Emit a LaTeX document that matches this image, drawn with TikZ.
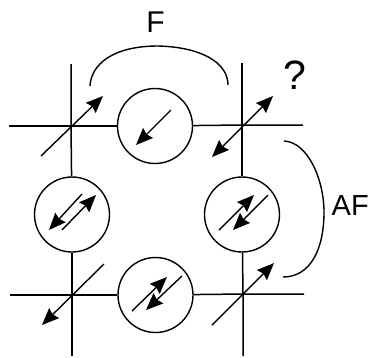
\documentclass[tikz,border=0pt]{standalone}
\usepackage{fontspec}
\setmainfont{Liberation Sans}
\usetikzlibrary{arrows.meta}
\tikzset{
  wire/.style={line width=1.5pt,black},
  spin/.style={line width=1.4pt,black,-{Stealth[length=17pt,width=14pt,inset=2pt]}},
  spintwo/.style={line width=1.4pt,black,{Stealth[length=17pt,width=14pt,inset=2pt]}-{Stealth[length=17pt,width=14pt,inset=2pt]}},
  site/.style={circle,draw,line width=1.4pt,minimum size=75pt,inner sep=0pt},
  bond/.style={line width=1.4pt},
  lbl/.style={inner sep=0pt,font=\fontsize{30}{30}\selectfont}
}
\begin{document}
\begin{tikzpicture}[x=1pt,y=-1pt]
\useasboundingbox (0,0) rectangle (369,357);
% lattice corners
\coordinate (tl) at (71,126);
\coordinate (tr) at (242,125);
\coordinate (bl) at (72,295);
\coordinate (br) at (243,294);
% sites
\node[site] (top) at (155,126) {};
\node[site] (left) at (72,214.5) {};
\node[site] (right) at (242,214.5) {};
\node[site] (bottom) at (155.5,295) {};
% free ends of the wires
\coordinate (tlw) at (9,126);
\coordinate (tln) at (71,64);
\coordinate (trn) at (242,63);
\coordinate (tre) at (303,125);
\coordinate (blw) at (10,295);
\coordinate (bls) at (72,356);
\coordinate (brs) at (243,356);
\coordinate (bre) at (304,294);
\draw[wire] (tlw) -- (tl) -- (top);
\draw[wire] (tln) -- (tl) -- (left);
\draw[wire] (top) -- (tr) -- (tre);
\draw[wire] (trn) -- (tr) -- (right);
\draw[wire] (blw) -- (bl) -- (bottom);
\draw[wire] (left) -- (bl) -- (bls);
\draw[wire] (bottom) -- (br) -- (bre);
\draw[wire] (right) -- (br) -- (brs);
% corner spins
\coordinate (a1) at (41,156); \coordinate (a2) at (103,96);
\coordinate (b1) at (212,157); \coordinate (b2) at (273,96);
\coordinate (c1) at (104,264); \coordinate (c2) at (42,325);
\coordinate (d1) at (212,325); \coordinate (d2) at (274,263);
\draw[spin] (a1) -- (a2);
\draw[spintwo] (b1) -- (b2);
\draw[spin] (c1) -- (c2);
\draw[spin] (d1) -- (d2);
% site spins
\coordinate (e1) at (171,110); \coordinate (e2) at (136,145);
\draw[spin] (e1) -- (e2);
\coordinate (f1) at (82,194); \coordinate (f2) at (49,230);
\coordinate (f3) at (62,230); \coordinate (f4) at (96,195);
\draw[spin] (f1) -- (f2);
\draw[spin] (f3) -- (f4);
\coordinate (g1) at (219,230); \coordinate (g2) at (254,195);
\coordinate (g3) at (268,195); \coordinate (g4) at (233,230);
\draw[spin] (g1) -- (g2);
\draw[spin] (g3) -- (g4);
\coordinate (h1) at (132,311); \coordinate (h2) at (167,277);
\coordinate (h3) at (182,276); \coordinate (h4) at (146,310);
\draw[spin] (h1) -- (h2);
\draw[spin] (h3) -- (h4);
% exchange brackets
\coordinate (fa) at (90,86); \coordinate (fb) at (228,85);
\coordinate (afa) at (284,141); \coordinate (afb) at (283,277);
\draw[bond] (fa) .. controls (91,65) and (112,46) .. (158,46)
  .. controls (200,47) and (228,62) .. (fb);
\draw[bond] (afa) .. controls (308,142) and (324,180) .. (324,212)
  .. controls (324,250) and (310,277) .. (afb);
% labels
\node[lbl,anchor=base] (lf) at (155.5,32) {F};
\node[inner sep=0pt,anchor=base west,font=\fontsize{29}{29}\selectfont] (laf) at (331.5,215) {AF};
\node[inner sep=0pt,anchor=base,font=\fontsize{41}{41}\selectfont] (lq) at (294.5,89) {?};
\end{tikzpicture}
\end{document}
